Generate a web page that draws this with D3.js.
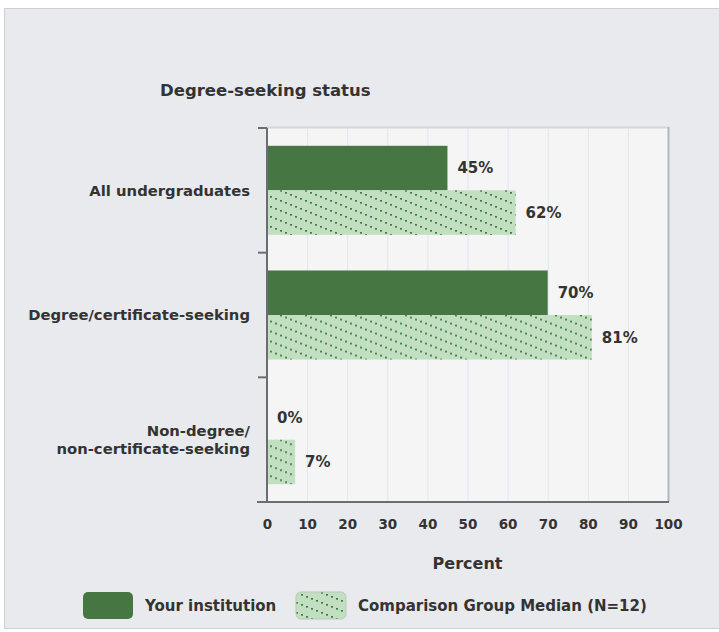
<!DOCTYPE html>
<html>
<head>
<meta charset="utf-8">
<script src="https://cdn.jsdelivr.net/npm/d3@7"></script>
<style>
  body { margin: 0; background: #fff; }
  svg text { font-family: "DejaVu Sans", Verdana, sans-serif; font-weight: bold; fill: #333; }
</style>
</head>
<body>
<svg id="chart" width="719" height="632"></svg>
<script>
// chart data
const categories = ['All undergraduates', 'Degree/certificate-seeking', 'Non-degree/\nnon-certificate-seeking'];
const seriesNames = ['Your institution', 'Comparison Group Median (N=12)'];
const institutionValues = [45, 70, 0];
const comparisonValues = [62, 81, 7];
const xTicks = [0, 10, 20, 30, 40, 50, 60, 70, 80, 90, 100];

const svg = d3.select('#chart');
const margin = { top: 128, right: 51, bottom: 130, left: 267 };
const width = 719, height = 632;

// outer panel
svg.append('rect')
    .attr('x', 4.5).attr('y', 8.5)
    .attr('width', 730).attr('height', 620)
    .attr('fill', '#e9eaee')
    .attr('stroke', '#cfd0d3');

// dotted diagonal pattern for comparison bars
const defs = svg.append('defs');
const pat = defs.append('pattern')
    .attr('id', 'dots')
    .attr('patternUnits', 'userSpaceOnUse')
    .attr('width', 25).attr('height', 10);
pat.append('rect').attr('width', 25).attr('height', 10).attr('fill', '#c2dfc2');
d3.range(0, 25, 5).forEach(px => {
    pat.append('rect')
        .attr('x', px).attr('y', px * 0.4)
        .attr('width', 2).attr('height', 1.7)
        .attr('fill', '#3f8040');
});

const x = d3.scaleLinear().domain([0, 100]).range([margin.left, width - margin.right]);
const y = d3.scaleBand().domain(categories).range([margin.top, height - margin.bottom]);
const ySub = d3.scaleBand().domain(seriesNames).range([0, y.bandwidth()]).paddingOuter(0.4);

// plot background
svg.append('rect')
    .attr('x', x(0)).attr('y', margin.top)
    .attr('width', x(100) - x(0)).attr('height', height - margin.bottom - margin.top)
    .attr('fill', '#f5f5f5');

// gridlines
svg.append('g')
    .selectAll('line')
    .data(xTicks.slice(1, -1))
    .enter()
    .append('line')
    .attr('x1', d => x(d) + 0.5).attr('x2', d => x(d) + 0.5)
    .attr('y1', margin.top).attr('y2', height - margin.bottom)
    .attr('stroke', '#dfe5f1');

// frame top + right
svg.append('line')
    .attr('x1', x(0)).attr('x2', x(100))
    .attr('y1', margin.top - 0.5).attr('y2', margin.top - 0.5)
    .attr('stroke', '#d4d6da').attr('stroke-width', 2);
svg.append('line')
    .attr('x1', x(100) + 0.5).attr('x2', x(100) + 0.5)
    .attr('y1', margin.top - 1).attr('y2', height - margin.bottom)
    .attr('stroke', '#b2b6bd').attr('stroke-width', 2);

// bars
const rows = categories.map((c, i) => ({ cat: c, vals: [institutionValues[i], comparisonValues[i]] }));

const groups = svg.selectAll('.cat')
    .data(rows)
    .enter()
    .append('g')
    .attr('class', 'cat')
    .attr('transform', d => `translate(0, ${y(d.cat)})`);

groups.selectAll('rect')
    .data(d => d.vals.map((v, j) => ({ s: seriesNames[j], v: v })))
    .enter()
    .append('rect')
    .attr('x', x(0))
    .attr('y', d => ySub(d.s))
    .attr('width', d => x(d.v) - x(0))
    .attr('height', ySub.bandwidth())
    .attr('fill', d => d.s === seriesNames[0] ? '#467641' : 'url(#dots)');

groups.selectAll('text.val')
    .data(d => d.vals.map((v, j) => ({ s: seriesNames[j], v: v })))
    .enter()
    .append('text')
    .attr('class', 'val')
    .attr('x', d => x(d.v) + 10)
    .attr('y', d => ySub(d.s) + ySub.bandwidth() / 2)
    .attr('dy', '0.36em')
    .style('font-size', '15px')
    .text(d => d.v + '%');

// y axis
const yAxis = svg.append('g')
    .attr('transform', `translate(${x(0)}, 0)`);
yAxis.append('line')
    .attr('y1', margin.top).attr('y2', height - margin.bottom)
    .attr('stroke', '#6a6d72').attr('stroke-width', 2);
yAxis.selectAll('line.tick')
    .data(categories.map(c => y(c)).concat([height - margin.bottom]))
    .enter()
    .append('line')
    .attr('class', 'tick')
    .attr('x1', -9).attr('x2', 0)
    .attr('y1', d => d).attr('y2', d => d)
    .attr('stroke', '#6a6d72').attr('stroke-width', 2);

// category labels
svg.selectAll('text.cat-label')
    .data(categories)
    .enter()
    .append('text')
    .attr('class', 'cat-label')
    .attr('text-anchor', 'end')
    .attr('x', 250)
    .attr('y', d => y(d) + y.bandwidth() / 2)
    .style('font-size', '14.8px')
    .each(function(d) {
        const lines = d.split('\n');
        const t = d3.select(this);
        lines.forEach((ln, k) => {
            t.append('tspan')
                .attr('x', 250)
                .attr('dy', k === 0 ? (0.36 - (lines.length - 1) * 0.62) + 'em' : '1.24em')
                .text(ln);
        });
    });

// x axis
const xAxis = svg.append('g')
    .attr('transform', `translate(0, ${height - margin.bottom})`)
    .call(d3.axisBottom(x).tickValues(xTicks).tickSize(0).tickPadding(17));
xAxis.select('.domain').remove();
xAxis.append('line')
    .attr('x1', x(0) - 10).attr('x2', x(100) + 1)
    .attr('stroke', '#6a6d72').attr('stroke-width', 2);
xAxis.selectAll('text')
    .style('font-size', '13.5px')
    .style('font-family', '"DejaVu Sans", Verdana, sans-serif')
    .style('font-weight', 'bold')
    .attr('fill', '#333');

// axis title
svg.append('text')
    .attr('x', (x(0) + x(100)) / 2)
    .attr('y', 569)
    .attr('text-anchor', 'middle')
    .style('font-size', '16px')
    .text('Percent');

// chart title
svg.append('text')
    .attr('x', 160)
    .attr('y', 96)
    .style('font-size', '16.5px')
    .text('Degree-seeking status');

// legend
const legendX = [83, 296];
const legend = svg.selectAll('.legend')
    .data(seriesNames)
    .enter()
    .append('g')
    .attr('class', 'legend')
    .attr('transform', (d, i) => `translate(${legendX[i]}, 592)`);
legend.append('rect')
    .attr('width', 50).attr('height', 27)
    .attr('rx', 5)
    .attr('fill', (d, i) => i === 0 ? '#467641' : 'url(#dots)')
    .attr('stroke', (d, i) => i === 0 ? 'none' : '#b9c9b9');
legend.append('text')
    .attr('x', 62)
    .attr('y', 14)
    .attr('dy', '0.36em')
    .style('font-size', '15px')
    .text(d => d);
</script>
</body>
</html>
